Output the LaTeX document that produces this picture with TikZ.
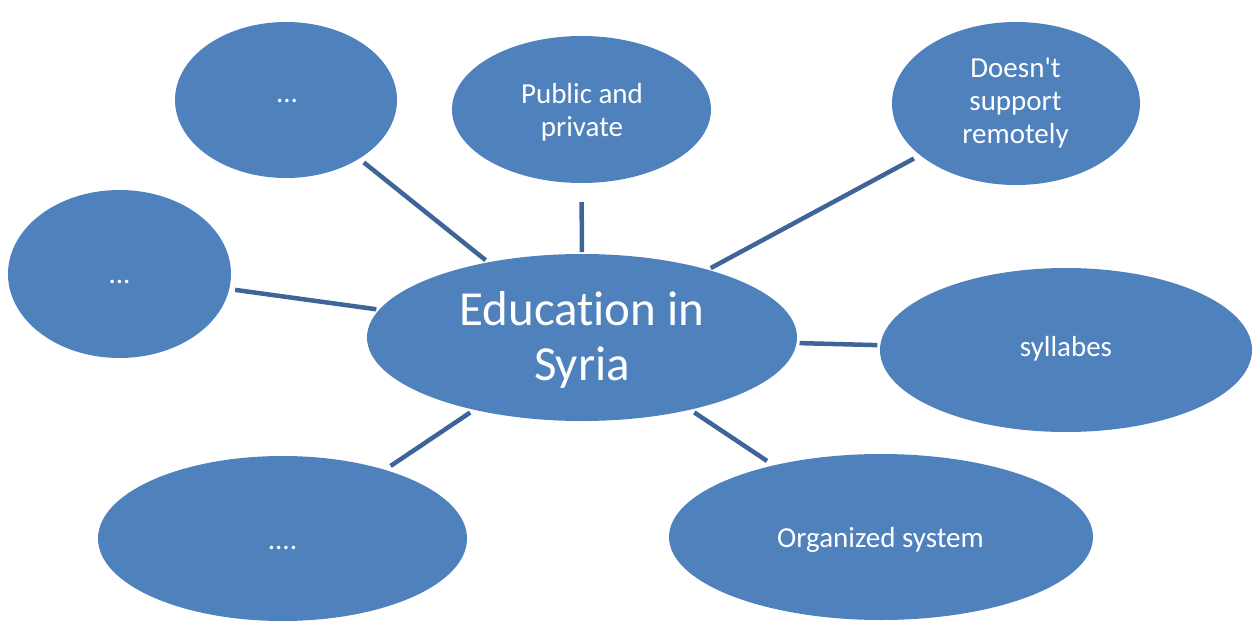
\documentclass[tikz,border=0pt]{standalone}
\usepackage{fontspec}
\setmainfont{Carlito}[Ligatures={TeX,NoCommon}]
\usetikzlibrary{shapes.geometric}
\definecolor{ellblue}{HTML}{4F81BD}
\definecolor{linkblue}{HTML}{3E6498}
\tikzset{
  ell/.style={ellipse, fill=ellblue, draw=none, inner sep=0pt, outer sep=0pt},
  lbl/.style={text=white, align=center, inner sep=0pt, font=\fontsize{29}{33}\selectfont},
  mainlbl/.style={text=white, align=center, inner sep=0pt, font=\fontsize{49}{55}\selectfont},
  link/.style={draw=linkblue, line width=4.5pt, line cap=butt}
}
\begin{document}
\begin{tikzpicture}[x=1pt,y=-1pt]
\useasboundingbox (0,0) rectangle (1259,621);
% ellipses
\node[ell, minimum width=430pt, minimum height=167pt] (main) at (582,337.5) {};
\node[ell, minimum width=222pt, minimum height=156pt] (tl) at (286,100) {};
\node[ell, minimum width=259pt, minimum height=147pt] (pub) at (581.5,109.5) {};
\node[ell, minimum width=248pt, minimum height=163pt] (doe) at (1016,103.5) {};
\node[ell, minimum width=223pt, minimum height=168pt] (left) at (119.5,274) {};
\node[ell, minimum width=372pt, minimum height=164pt] (syl) at (1066,350) {};
\node[ell, minimum width=369pt, minimum height=165pt] (bl) at (282.5,538.5) {};
\node[ell, minimum width=424pt, minimum height=166pt] (org) at (881,537) {};
% texts
\node[mainlbl] (tmain) at (582,341.5) {\strut Education in\\\strut Syria};
\node[lbl] (ttl) at (287,95.4) {\strut ...};
\node[lbl] (tpub) at (582,112.9) {\strut Public and\\\strut private};
\node[lbl] (tdoe) at (1015.5,103.4) {\strut Doesn\textquotesingle t\\\strut support\\\strut remotely};
\node[lbl] (tleft) at (119.5,276.4) {\strut ...};
\node[lbl] (tsyl) at (1066,349.4) {\strut syllabes};
\node[lbl] (tbl) at (282.5,542.4) {\strut ....};
\node[lbl] (torg) at (880.5,540.4) {\strut Organized system};
% connectors
\draw[link, shorten <=6pt, shorten >=3.5pt] (tl) -- (main);
\draw[link, shorten <=19pt, shorten >=2pt] (pub) -- (main);
\draw[link, shorten <=7pt, shorten >=3.5pt] (doe) -- (main);
\draw[link, shorten <=6pt, shorten >=3pt] (left) -- (main);
\draw[link, shorten <=3pt, shorten >=3pt] (syl) -- (main);
\draw[link, shorten <=8pt, shorten >=5pt] (org) -- (main);
\draw[link, shorten <=7pt, shorten >=5pt] (bl) -- (main);
\end{tikzpicture}
\end{document}
